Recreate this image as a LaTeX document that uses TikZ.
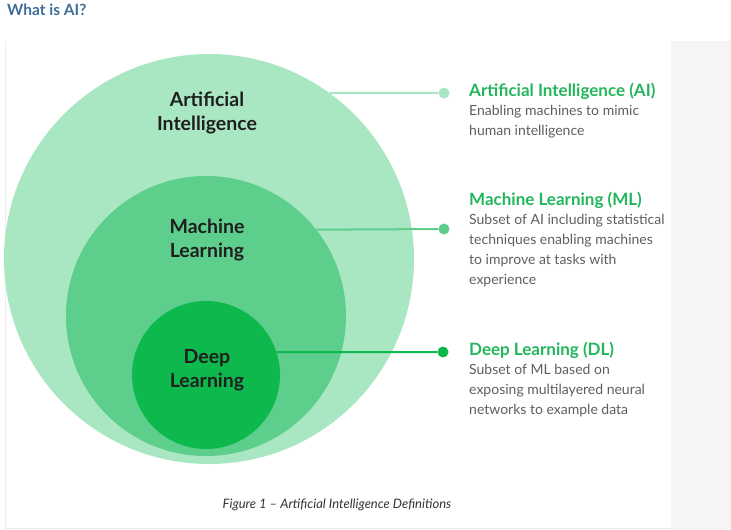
\documentclass[tikz,border=0pt]{standalone}
\usepackage{fontspec}
\setmainfont{Lato}
\usepackage{xcolor}
\usetikzlibrary{positioning}
\definecolor{aifill}{HTML}{A9E6C2}
\definecolor{mlfill}{HTML}{5DCE8C}
\definecolor{dlfill}{HTML}{0DB84D}
\definecolor{headgreen}{HTML}{22B65C}
\definecolor{bodygray}{HTML}{5E5E5E}
\definecolor{pageblue}{HTML}{3E6D98}
\definecolor{panel}{HTML}{F5F5F5}

\begin{document}
\begin{tikzpicture}[
  x=1pt, y=-1pt,
  ring/.style={circle, inner sep=0pt, minimum size=#1},
  ringlabel/.style={align=center, font=\fontsize{19.5}{24.5}\selectfont\bfseries, text=black!88, inner sep=0pt},
  dot/.style={circle, inner sep=0pt, minimum size=11pt},
  lead/.style={line width=2pt},
  head/.style={anchor=base west, inner sep=0pt, font=\fontsize{17}{20}\selectfont\bfseries, text=headgreen},
  body/.style={anchor=north west, inner sep=0pt, align=left, font=\fontsize{14}{20}\selectfont, text=bodygray},
]
\useasboundingbox (0,0) rectangle (731,530);

% Page frame and grey side panel.
\draw[draw=black!7, line width=0.8pt] (5,41) -- (5,528) -- (671,528);
\fill[panel] (671,41) rectangle (731,530);
\node[anchor=base west, inner sep=0pt, font=\fontsize{15.5}{18}\selectfont\bfseries, text=pageblue] (pagetitle) at (7,16) {What is AI?};

% Nested circles: AI holds ML, ML holds DL.
\node[ring=410pt, fill=aifill] (ai) at (209,259) {};
\node[ring=280pt, fill=mlfill] (ml) at (206,316) {};
\node[ring=148pt, fill=dlfill] (dl) at (206,375) {};

\node[ringlabel] (ailabel) at (207,113) {Artificial\\Intelligence};
\node[ringlabel] (mllabel) at (207,240) {Machine\\Learning};
\node[ringlabel] (dllabel) at (207,370) {Deep\\Learning};

% Leader lines out to the definitions.
\node[dot, fill=aifill] (aidot) at (444,93) {};
\node[dot, fill=mlfill] (mldot) at (444,229) {};
\node[dot, fill=dlfill] (dldot) at (443,352) {};
\draw[lead, aifill] (ai.54) -- (aidot);
\draw[lead, mlfill] (ml.38.4) -- (mldot);
\draw[lead, dlfill] (dl.18) -- (dldot);

% Definitions.
\node[head] (aihead) at (469,96) {Artificial Intelligence (AI)};
\node[body] (aibody) at (469,105) {Enabling machines to mimic\\human intelligence};

\node[head] (mlhead) at (469,205) {Machine Learning (ML)};
\node[body] (mlbody) at (469,214) {Subset of AI including statistical\\techniques enabling machines\\to improve at tasks with\\experience};

\node[head] (dlhead) at (469,355) {Deep Learning (DL)};
\node[body] (dlbody) at (469,364) {Subset of ML based on\\exposing multilayered neural\\networks to example data};

% Caption.
\node[anchor=base, inner sep=0pt, font=\fontsize{13}{16}\selectfont\itshape, text=black!80] (caption) at (337,508) {Figure 1 -- Artificial Intelligence Definitions};
\end{tikzpicture}
\end{document}
